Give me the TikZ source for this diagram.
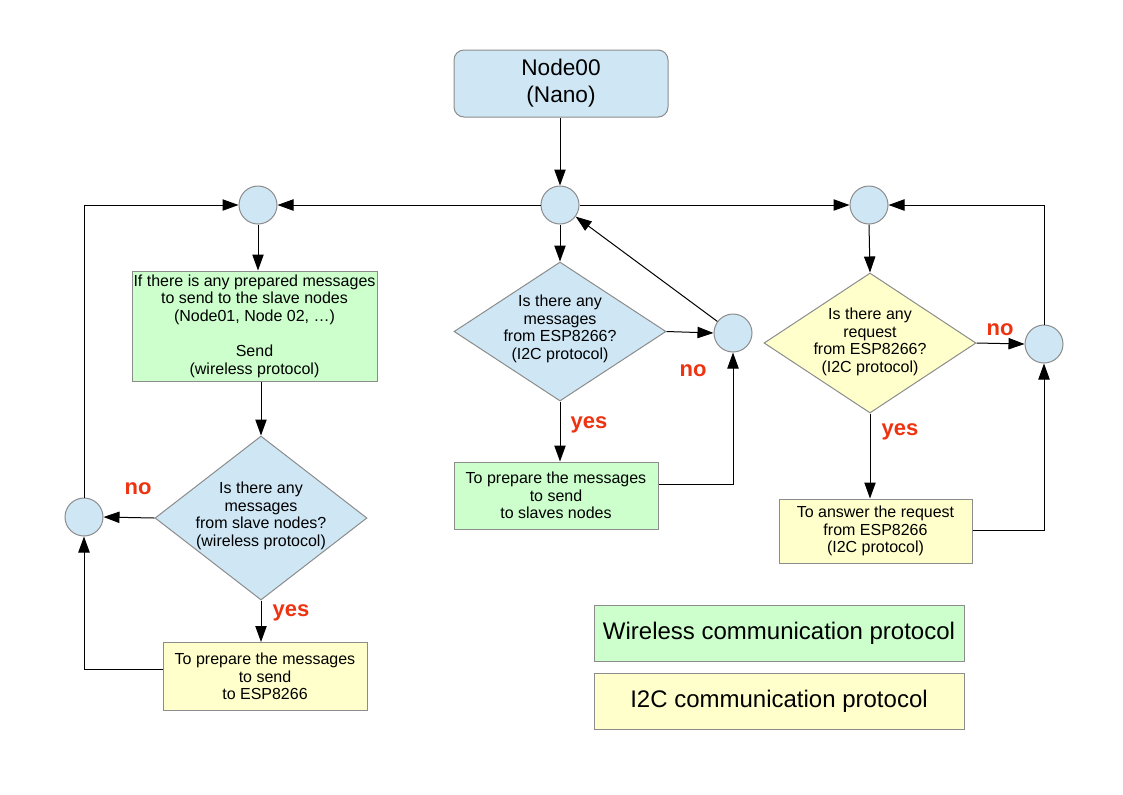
\documentclass[tikz,border=0pt]{standalone}
\usepackage{fontspec}
\setmainfont{Liberation Sans}
\usetikzlibrary{shapes.geometric,arrows.meta}
\definecolor{bluefill}{HTML}{CFE7F5}
\definecolor{greenfill}{HTML}{CCFFCC}
\definecolor{yellowfill}{HTML}{FFFFCC}
\definecolor{edgegray}{HTML}{8C8C8C}
\definecolor{labred}{HTML}{EE3311}
\begin{document}
\begin{tikzpicture}[x=0.75pt,y=-0.75pt,
  box/.style={draw=edgegray, line width=0.75pt, align=center, inner sep=0pt,
    font=\fontsize{12}{13.2}\selectfont},
  circ/.style={circle, draw=edgegray, line width=0.75pt, fill=bluefill, minimum size=28.5pt, inner sep=0pt},
  dec/.style={diamond, draw=edgegray, line width=0.75pt, inner sep=0pt, minimum width=159pt},
  dtext/.style={align=center, font=\fontsize{12}{13.2}\selectfont, inner sep=0pt},
  arr/.style={-{Triangle[length=12pt,width=8.5pt]}, line width=0.75pt},
  lab/.style={text=labred, font=\bfseries\fontsize{16.5}{18}\selectfont, inner sep=0pt},
  legend/.style={draw=edgegray, line width=0.75pt, minimum width=277.5pt, minimum height=42pt,
    inner sep=0pt, font=\fontsize{18}{20}\selectfont}
]
\fill[white] (0,0) rectangle (1123,794);
\useasboundingbox (0,0) rectangle (1123,794);

% top node
\node[box, rounded corners=7.5pt, fill=bluefill, minimum width=160.5pt, minimum height=50.25pt,
  font=\fontsize{17}{20.25}\selectfont] (n00) at (561,83.5) {Node00\\(Nano)};

% circles
\node[circ] (c1) at (258,205) {};
\node[circ] (c2) at (560,205) {};
\node[circ] (c3) at (869,205) {};
\node[circ] (c4) at (733,333) {};
\node[circ] (c5) at (1044,344) {};
\node[circ] (c6) at (84,517) {};

% left column
\node[box, fill=greenfill, minimum width=183.75pt, minimum height=82.5pt] (b1) at (254.5,326)
  {If there is any prepared messages\\to send to the slave nodes\\(Node01, Node 02, …)\\[13.2pt]Send\\(wireless protocol)};
\node[dec, fill=bluefill, minimum height=123pt] (d1) at (261,518) {};
\node[dtext] (t1) at (261,516) {Is there any\\messages\\from slave nodes?\\(wireless protocol)};
\node[box, fill=yellowfill, minimum width=153pt, minimum height=51pt] (b2) at (265,676.5)
  {To prepare the messages\\to send\\to ESP8266};

% center column
\node[dec, fill=bluefill, minimum height=104.25pt] (d2) at (560,331.5) {};
\node[dtext] (t2) at (560,329) {Is there any\\messages\\from ESP8266?\\(I2C protocol)};
\node[box, fill=greenfill, minimum width=153pt, minimum height=50.25pt] (b3) at (556,495.5)
  {To prepare the messages\\to send\\to slaves nodes};

% right column
\node[dec, fill=yellowfill, minimum height=105pt] (d3) at (870,343) {};
\node[dtext] (t3) at (870,342) {Is there any\\request\\from ESP8266?\\(I2C protocol)};
\node[box, fill=yellowfill, minimum width=144.75pt, minimum height=48pt] (b4) at (875.5,531)
  {To answer the request\\from ESP8266\\(I2C protocol)};

% legend
\node[legend, fill=greenfill] (lg1) at (779,633) {Wireless communication protocol};
\node[legend, fill=yellowfill] (lg2) at (779,701) {I2C communication protocol};

% connectors
\draw[arr] (n00.south -| c2) -- (c2.north);
\draw[arr] (c2.west) -- (c1.east);
\draw[arr] (c2.east) -- (c3.west);
\draw[arr] (c6.north) |- (c1.west);
\draw[arr] (c1.south) -- (c1.south |- b1.north);
\draw[arr] (b1.south -| d1.north) -- (d1.north);
\draw[arr] (d1.west) -- (c6.east);
\draw[arr] (d1.south) -- (d1.south |- b2.north);
\draw[arr] ([yshift=5.25pt]b2.west) -| (c6.south);

\draw[arr] (c2.south) -- (d2.north);
\draw[arr] (d2.east) -- (c4.west);
\draw[arr] (d2.south) -- (d2.south |- b3.north);
\draw[arr] ([yshift=8.6pt]b3.east) -| (c4.south);
\draw[arr] (c4) -- (c2);

\draw[arr] (c3.south) -- (d3.north);
\draw[arr] (d3.east) -- (c5.west);
\draw[arr] (d3.south) -- (d3.south |- b4.north);
\draw[arr] ([yshift=0.75pt]b4.east) -| (c5.south);
\draw[arr] (c5.north) |- (c3.east);

% labels
\node[lab] (no1) at (138,489) {no};
\node[lab] (yes1) at (291,613) {yes};
\node[lab] (no2) at (693,371) {no};
\node[lab] (yes2) at (589,425) {yes};
\node[lab] (no3) at (1000,330) {no};
\node[lab] (yes3) at (900,432) {yes};
\end{tikzpicture}
\end{document}
